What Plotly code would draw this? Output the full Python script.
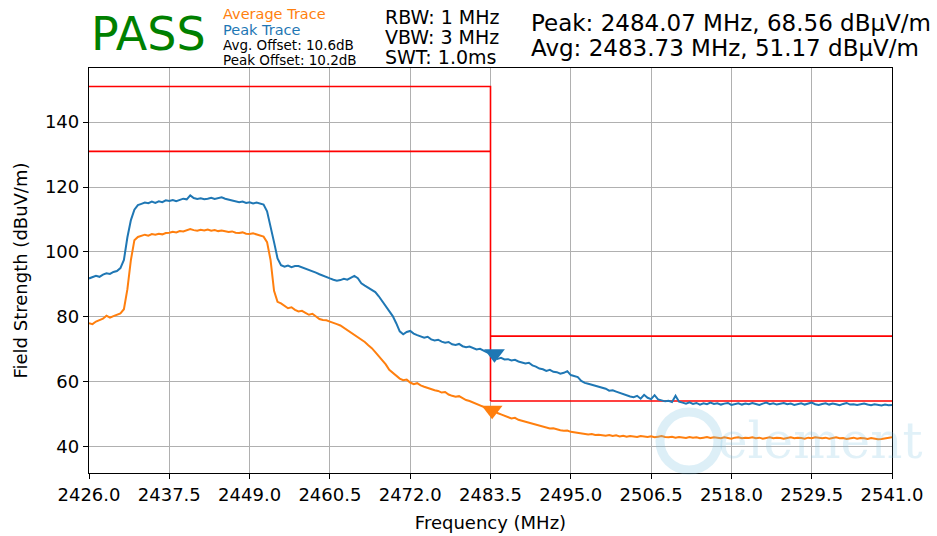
import numpy as np
import plotly.graph_objects as go

# Sweep grid: 2426.0 .. 2541.0 MHz in 0.5 MHz steps
freq = np.round(np.arange(2426.0, 2541.01, 0.5), 1)

# Peak detector trace (dBuV/m)
peak_trace = [
    91.8, 92.1, 92.6, 92.3, 93.0, 93.4, 93.2, 93.8, 94.1, 95.0,
    97.5, 104.5, 109.8, 113.0, 114.4, 114.8, 115.2, 115.0, 115.5, 115.1,
    115.6, 115.3, 115.9, 115.7, 116.0, 115.6, 116.1, 116.4, 116.2, 117.4,
    116.6, 116.3, 116.5, 116.2, 116.4, 116.7, 116.3, 116.5, 116.8, 116.4,
    116.1, 115.9, 115.6, 115.3, 115.5, 115.1, 115.3, 114.9, 115.2, 115.0,
    114.6, 112.5, 108.0, 103.0, 98.0, 95.9, 95.4, 95.8, 95.3, 95.6,
    95.6, 95.2, 95.0, 94.5, 94.0, 93.6, 93.1, 92.6, 92.2, 91.8,
    91.4, 91.1, 91.3, 91.7, 91.4, 92.0, 92.6, 91.9, 90.3, 89.6,
    89.0, 88.4, 87.6, 86.3, 84.8, 83.3, 81.8, 80.2, 78.0, 75.5,
    74.6, 75.3, 75.6, 74.8, 74.3, 74.0, 73.5, 73.8, 73.0, 72.7,
    72.9, 72.3, 72.0, 72.2, 71.5, 71.3, 71.6, 70.9, 70.6, 70.8,
    70.3, 69.9, 70.1, 69.5, 69.0, 68.7, 68.5, 67.0, 67.3, 66.8,
    66.9, 66.5, 66.7, 66.2, 65.9, 65.6, 65.8, 65.0, 64.6, 64.0,
    63.8, 63.3, 63.6, 63.0, 62.9, 62.4, 62.7, 63.2, 62.0, 61.7,
    61.4, 60.2, 59.6, 59.3, 59.0, 58.6, 58.4, 58.1, 57.8, 57.2,
    57.3, 56.9, 56.5, 56.1, 55.8, 55.4, 55.2, 55.6, 54.7, 55.9,
    55.0, 54.6, 55.8, 54.5, 54.2, 53.9, 54.1, 53.7, 55.6, 53.8,
    53.5, 53.2, 53.6, 53.1, 53.4, 52.9, 53.3, 53.0, 53.5, 53.1,
    53.3, 52.9, 53.2, 53.4, 52.8, 53.1, 53.3, 52.9, 53.2, 53.0,
    53.4, 53.1, 52.8, 53.2, 53.5, 53.0, 53.3, 52.9, 53.1, 53.4,
    53.0, 53.2, 52.8, 53.1, 53.3, 52.9, 53.2, 53.5, 53.0, 52.8,
    53.1, 53.3, 52.9, 53.2, 53.0, 52.7, 53.1, 53.4, 52.9, 53.0,
    52.8, 53.1, 53.2, 52.9, 52.7, 53.0, 52.8, 52.6, 52.9, 52.7,
    52.8,
]

# Average detector trace (dBuV/m)
avg_trace = [
    78.0, 77.7, 78.5, 78.9, 79.4, 80.3, 79.7, 80.2, 80.5, 81.0,
    82.3, 88.5, 97.5, 103.6, 104.6, 105.0, 105.3, 105.0, 105.5, 105.3,
    105.6, 105.4, 105.8, 105.9, 106.2, 106.0, 106.4, 106.3, 106.6, 107.0,
    106.7, 106.5, 106.8, 106.6, 106.9, 106.5, 106.7, 106.4, 106.6, 106.3,
    106.1, 106.3, 105.9, 105.8, 106.0, 105.6, 105.5, 105.7, 105.3, 105.0,
    104.7, 103.0, 97.5, 88.0, 84.6, 84.1, 83.2, 82.6, 82.9, 82.1,
    81.6, 81.8, 81.2, 80.6, 80.9, 80.2, 79.3, 79.0, 78.9, 78.5,
    78.2, 77.7, 77.3, 76.6, 75.9, 75.2, 74.4, 73.8, 72.9, 72.2,
    71.2, 70.3, 69.1, 67.9, 66.8, 65.3, 63.6, 62.6, 61.6, 60.9,
    60.4, 60.6, 59.7, 59.2, 59.5, 58.8, 58.4, 58.0, 57.8, 57.3,
    57.1, 56.6, 56.8, 56.0, 55.6, 55.3, 55.5, 54.8, 54.3, 54.0,
    53.6, 53.1, 52.8, 52.2, 51.6, 51.0, 51.1, 50.3, 49.9, 49.4,
    49.0, 48.6, 48.8, 48.2, 47.9, 47.6, 47.3, 46.9, 46.6, 46.2,
    46.0, 45.8, 45.5, 45.6, 45.2, 45.0, 44.8, 44.9, 44.5, 44.3,
    44.2, 44.0, 43.9, 43.7, 43.8, 43.5, 43.6, 43.4, 43.3, 43.5,
    43.2, 43.4, 43.1, 43.3, 43.0, 43.2, 43.1, 42.9, 43.2, 43.0,
    42.9, 43.1, 42.8, 43.0, 43.2, 42.9, 42.8, 43.0, 42.7, 42.9,
    42.8, 42.6, 42.9, 42.7, 42.8, 42.5, 42.7, 42.9, 42.6, 42.8,
    42.7, 42.5, 42.8, 42.6, 42.4, 42.7, 42.8, 42.5, 42.7, 42.6,
    42.8, 42.5, 42.7, 42.4, 42.6, 42.8, 42.5, 42.7, 42.6, 42.4,
    42.6, 42.8, 42.5, 42.7, 42.6, 42.4, 42.7, 42.5, 42.8, 42.6,
    42.5, 42.7, 42.4, 42.6, 42.8, 42.5, 42.6, 42.3, 42.5, 42.7,
    42.4, 42.6, 42.5, 42.3, 42.6, 42.4, 42.2, 42.3, 42.5, 42.7,
    42.8,
]

# Limit lines: in-band (peak / average) and restricted band (peak / average)
band_edge = 2483.5
f_start, f_stop = 2426.0, 2541.0
inband_peak_limit, inband_avg_limit = 151, 131
restricted_peak_limit, restricted_avg_limit = 74, 54

# Marker readouts
peak_marker = (2484.07, 68.56)
avg_marker = (2483.73, 51.17)

x_ticks = [2426.0, 2437.5, 2449.0, 2460.5, 2472.0, 2483.5, 2495.0, 2506.5, 2518.0, 2529.5, 2541.0]
y_ticks = [40, 60, 80, 100, 120, 140]

BLUE = "#1f77b4"
ORANGE = "#ff7f0e"
RED = "#ff0000"
FONT = "DejaVu Sans"

fig = go.Figure()

limit_x = [f_start, band_edge, band_edge, None,
           f_start, band_edge, None,
           band_edge, f_stop, None,
           band_edge, f_stop]
limit_y = [inband_peak_limit, inband_peak_limit, restricted_avg_limit, None,
           inband_avg_limit, inband_avg_limit, None,
           restricted_peak_limit, restricted_peak_limit, None,
           restricted_avg_limit, restricted_avg_limit]
fig.add_trace(go.Scatter(x=limit_x, y=limit_y, mode="lines",
                         line=dict(color=RED, width=1.6), hoverinfo="skip"))

fig.add_trace(go.Scatter(x=freq, y=peak_trace, mode="lines", name="Peak Trace",
                         line=dict(color=BLUE, width=2)))
fig.add_trace(go.Scatter(x=freq, y=avg_trace, mode="lines", name="Average Trace",
                         line=dict(color=ORANGE, width=2)))

fig.add_trace(go.Scatter(x=[peak_marker[0]], y=[peak_marker[1]], mode="markers",
                         marker=dict(symbol="triangle-down", size=18, color=BLUE)))
fig.add_trace(go.Scatter(x=[avg_marker[0]], y=[avg_marker[1]], mode="markers",
                         marker=dict(symbol="triangle-down", size=18, color=ORANGE)))

axis_common = dict(
    showgrid=True, gridcolor="#b0b0b0", gridwidth=1.3,
    showline=True, linecolor="black", linewidth=1.3, mirror=True,
    ticks="outside", ticklen=5, tickwidth=1.2, tickcolor="black",
    tickfont=dict(family=FONT, size=18, color="black"),
    zeroline=False, automargin=False,
)

fig.update_xaxes(range=[f_start, f_stop], tickvals=x_ticks,
                 ticktext=[f"{v:.1f}" for v in x_ticks],
                 title=dict(text="Frequency (MHz)", font=dict(family=FONT, size=18, color="black"), standoff=12),
                 **axis_common)
fig.update_yaxes(range=[31.8, 156.7], tickvals=y_ticks,
                 title=dict(text="Field Strength (dBuV/m)", font=dict(family=FONT, size=18, color="black"), standoff=12),
                 **axis_common)

ann = []
def txt(x, y, s, size, color="black", xanchor="left"):
    ann.append(dict(x=x, y=y, xref="paper", yref="paper", xanchor=xanchor, yanchor="middle",
                    text=s, showarrow=False, borderpad=0,
                    font=dict(family=FONT, size=size, color=color)))

W, H = 937, 536
L, R, T, B = 89, 45, 68, 63
pw, ph = W - L - R, H - T - B
def px(xp): return (xp - L) / pw
def py(yp): return (H - B - yp) / ph

txt(px(90), py(34), "PASS", 46, color="green")
txt(px(222), py(14.5), "Average Trace", 14.5, color=ORANGE)
txt(px(222), py(30), "Peak Trace", 14.5, color=BLUE)
txt(px(222), py(45), "Avg. Offset: 10.6dB", 13.5)
txt(px(222), py(60), "Peak Offset: 10.2dB", 13.5)
txt(px(384), py(17), "RBW: 1 MHz", 19)
txt(px(384), py(37), "VBW: 3 MHz", 19)
txt(px(384), py(57), "SWT: 1.0ms", 19)
txt(px(530), py(23), f"Peak: {peak_marker[0]:.2f} MHz, {peak_marker[1]:.2f} dBμV/m", 23)
txt(px(530), py(48), f"Avg: {avg_marker[0]:.2f} MHz, {avg_marker[1]:.2f} dBμV/m", 23)

# faint company watermark
ann.append(dict(x=px(716), y=py(441), xref="paper", yref="paper", xanchor="left", yanchor="middle",
                text="element", showarrow=False,
                font=dict(family="DejaVu Serif", size=50, color="rgba(120,190,225,0.22)")))
fig.add_shape(type="circle", xref="paper", yref="paper",
              x0=px(660), x1=px(718), y0=py(470), y1=py(412),
              line=dict(color="rgba(120,190,225,0.25)", width=9), layer="above")

fig.update_layout(
    width=W, height=H,
    margin=dict(l=L, r=R, t=T, b=B),
    paper_bgcolor="white", plot_bgcolor="white",
    showlegend=False,
    annotations=ann,
    font=dict(family=FONT),
)

fig.write_html("out.html")
